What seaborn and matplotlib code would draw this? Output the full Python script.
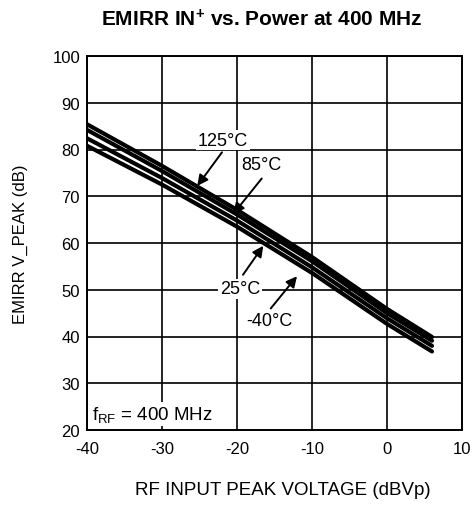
import matplotlib
matplotlib.use("Agg")
import matplotlib.pyplot as plt
import seaborn as sns
import pandas as pd

# ---- data ----
rf_dbvp = [-40, -30, -20, -10, 0, 6]
emirr_125 = [85.4, 76.5, 67.1, 57.0, 45.9, 39.9]
emirr_85 = [84.2, 75.4, 66.1, 56.1, 45.0, 39.1]
emirr_25 = [82.4, 73.9, 64.8, 54.8, 43.9, 38.0]
emirr_m40 = [80.8, 72.5, 63.5, 53.6, 42.7, 36.8]
temps = ["125°C", "85°C", "25°C", "-40°C"]
x_ticks = [-40, -30, -20, -10, 0, 10]
y_ticks = [20, 30, 40, 50, 60, 70, 80, 90, 100]

rows = []
for t, ys in zip(temps, [emirr_125, emirr_85, emirr_25, emirr_m40]):
    for xv, yv in zip(rf_dbvp, ys):
        rows.append({"x": xv, "y": yv, "temp": t})
df = pd.DataFrame(rows)

sns.set_theme(style="white")
plt.rcParams["font.family"] = ["Liberation Sans", "DejaVu Sans"]
plt.rcParams["axes.unicode_minus"] = False
plt.rcParams["text.color"] = "black"
plt.rcParams["axes.labelcolor"] = "black"
plt.rcParams["mathtext.fontset"] = "custom"
plt.rcParams["mathtext.rm"] = "Liberation Sans"
plt.rcParams["mathtext.it"] = "Liberation Sans"
plt.rcParams["mathtext.bf"] = "Liberation Sans:bold"

fig = plt.figure(figsize=(4.72, 5.06), dpi=100)
ax = fig.add_axes([87 / 472, 1 - 431 / 506, 375 / 472, 374 / 506])

sns.lineplot(data=df, x="x", y="y", hue="temp", palette=["black"] * 4,
             linewidth=3.0, legend=False, ax=ax, sort=False)

ax.set_xlim(-40, 10)
ax.set_ylim(20, 100)
ax.set_xticks(x_ticks)
ax.set_yticks(y_ticks)
ax.grid(True, color="black", linewidth=1.2)
ax.set_axisbelow(True)
for s in ax.spines.values():
    s.set_color("black")
    s.set_linewidth(1.4)
ax.tick_params(axis="both", length=0, labelsize=12, colors="black")
ax.tick_params(axis="x", pad=8)
ax.tick_params(axis="y", pad=5)

ax.set_xlabel("RF INPUT PEAK VOLTAGE (dBVp)", fontsize=13.5, color="black")
ax.xaxis.set_label_coords(0.523, -0.137)
ax.set_ylabel("EMIRR V_PEAK (dB)", fontsize=12, color="black")
ax.yaxis.set_label_coords(-0.158, 0.5)

fig.text(0.555, 0.96, r"EMIRR IN$^{\mathbf{+}}$ vs. Power at 400 MHz",
         ha="center", va="center", fontsize=15, fontweight="bold",
         color="black")

bbox = dict(boxstyle="square,pad=0.1", fc="white", ec="none")
arrow = dict(arrowstyle="-|>", color="black", lw=1.4, mutation_scale=16,
             shrinkA=0, shrinkB=0)
annots = [
    ("125°C", (-25.3, 72.2), (-21.9, 82.0), (-22.0, 79.4)),
    ("85°C", (-20.5, 66.2), (-16.8, 76.7), (-16.7, 73.8)),
    ("25°C", (-16.5, 59.4), (-19.6, 50.2), (-19.2, 53.2)),
    ("-40°C", (-12.0, 52.9), (-15.7, 43.5), (-15.5, 46.0)),
]
for label, head, txt, tail in annots:
    ax.annotate("", xy=head, xytext=tail, arrowprops=arrow, zorder=4)
    ax.text(txt[0], txt[1], label, ha="center", va="center", fontsize=13,
            color="black", bbox=bbox, zorder=5)

ax.text(-39.3, 23.4, r"f$_{\mathrm{RF}}$ = 400 MHz", ha="left", va="center",
        fontsize=13.5, color="black", bbox=bbox, zorder=5)

fig.savefig("out.png", dpi=100)
